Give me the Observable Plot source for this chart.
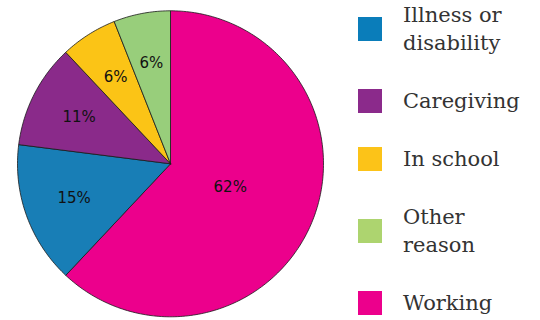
<!DOCTYPE html>
<html>
<head>
<meta charset="utf-8">
<script src="https://cdn.jsdelivr.net/npm/d3@7"></script>
<script src="https://cdn.jsdelivr.net/npm/@observablehq/plot@0.6"></script>
<style>
  html, body { margin: 0; padding: 0; background: #fff; }
  #wrap { position: relative; width: 540px; height: 320px; overflow: hidden; }
  #chart { position: absolute; left: 0; top: 0; }
  #legend { position: absolute; left: 358px; top: 1px; display: flex; flex-direction: column; gap: 30px; }
  .item { display: flex; align-items: center; }
  .sw { width: 24px; height: 24px; flex: none; }
  .lab { margin-left: 21px; font-family: "DejaVu Serif", serif; font-size: 21px; line-height: 28px; color: #333; }
</style>
</head>
<body>
<div id="wrap"><div id="chart"></div><div id="legend"></div></div>
<script>
// Data (legend order)
const categories = ["Illness or disability", "Caregiving", "In school", "Other reason", "Working"];
const shares = [15, 11, 6, 6, 62];
const legendLines = [["Illness or", "disability"], ["Caregiving"], ["In school"], ["Other", "reason"], ["Working"]];
const pieColors = ["#187EB6", "#8A2A8A", "#FBC416", "#98CE7B", "#EC008C"];
const legendColors = ["#0A7DBA", "#8B2A8B", "#FCC318", "#ADD46F", "#EC008C"];

// Pie order: clockwise from 12 o'clock, starting with "Working"
const order = [4, 0, 1, 2, 3];
const total = d3.sum(shares);
const poly = [];
const labels = [];
let acc = 0;
for (const i of order) {
  const a0 = acc / total * 2 * Math.PI;
  acc += shares[i];
  const a1 = acc / total * 2 * Math.PI;
  const name = categories[i];
  poly.push({name, x: 0, y: 0});
  const n = Math.max(2, Math.ceil((a1 - a0) / (Math.PI / 180)));
  for (let k = 0; k <= n; k++) {
    const a = a0 + (a1 - a0) * k / n;
    poly.push({name, x: Math.sin(a), y: Math.cos(a)});
  }
  poly.push({name, x: 0, y: 0});
  const am = (a0 + a1) / 2;
  const r = shares[i] / total > 0.5 ? 0.42 : 0.67;
  labels.push({name, x: r * Math.sin(am), y: r * Math.cos(am), text: shares[i] + "%"});
}

const chart = Plot.plot({
  width: 340,
  height: 320,
  margin: 0,
  x: {domain: [-1, 1], range: [17, 323], axis: null},
  y: {domain: [-1, 1], range: [316.3, 10.3], axis: null},
  color: {domain: categories, range: pieColors},
  marks: [
    Plot.line(poly, {x: "x", y: "y", z: "name", fill: "name", stroke: "#1a1a1a", strokeWidth: 0.8, curve: "linear", strokeLinejoin: "round"}),
    Plot.text(labels, {x: "x", y: "y", text: "text", fill: "#111", fontSize: 15, fontFamily: "DejaVu Sans"})
  ]
});
document.getElementById("chart").appendChild(chart);

const legend = document.getElementById("legend");
categories.forEach((c, i) => {
  const item = document.createElement("div");
  item.className = "item";
  const sw = document.createElement("div");
  sw.className = "sw";
  sw.style.background = legendColors[i];
  const lab = document.createElement("div");
  lab.className = "lab";
  lab.innerHTML = legendLines[i].join("<br>");
  item.appendChild(sw);
  item.appendChild(lab);
  legend.appendChild(item);
});
</script>
</body>
</html>
